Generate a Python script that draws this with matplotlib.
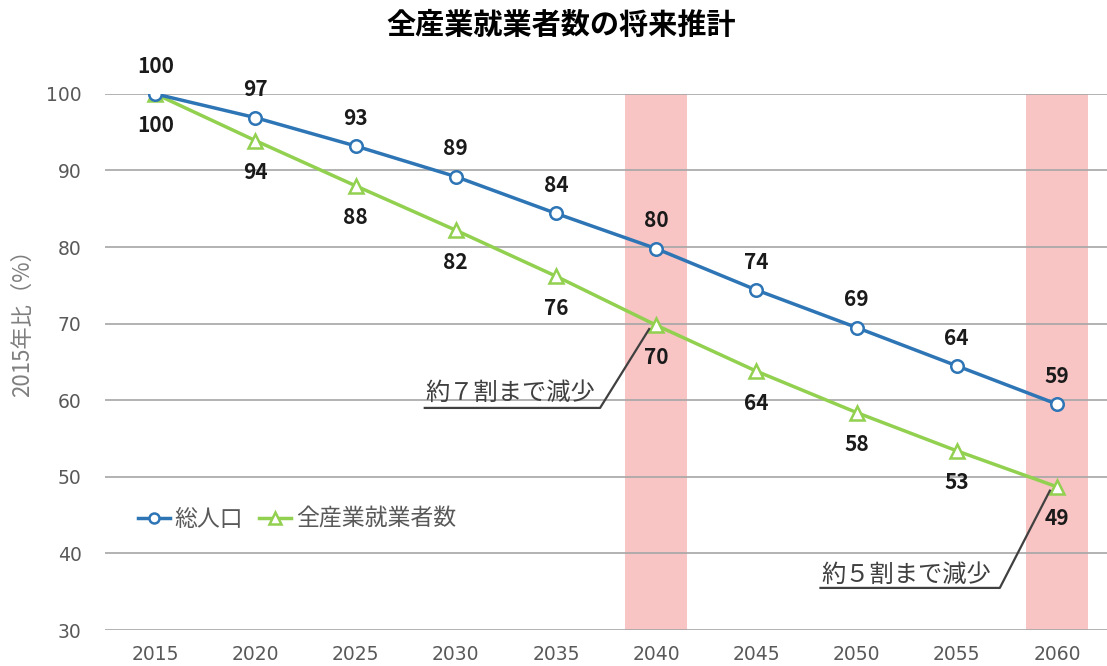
import matplotlib
matplotlib.use("Agg")
import matplotlib.pyplot as plt

plt.rcParams['font.family'] = ['Noto Sans CJK JP', 'DejaVu Sans']

years = ["2015", "2020", "2025", "2030", "2035", "2040", "2045", "2050", "2055", "2060"]
population = [100, 96.9, 93.2, 89.2, 84.4, 79.8, 74.4, 69.5, 64.5, 59.5]
population_labels = [100, 97, 93, 89, 84, 80, 74, 69, 64, 59]
workers = [100, 93.9, 88.0, 82.2, 76.2, 69.8, 63.8, 58.4, 53.4, 48.7]
workers_labels = [100, 94, 88, 82, 76, 70, 64, 58, 53, 49]
yticks = [30, 40, 50, 60, 70, 80, 90, 100]
highlight_years = ["2040", "2060"]

fig = plt.figure(figsize=(11.07, 6.66), dpi=100)
ax = fig.add_axes([0.095, 0.054, 0.905, 0.805])
x = list(range(len(years)))

for hy in highlight_years:
    i = years.index(hy)
    ax.axvspan(i - 0.31, i + 0.31, ymin=0, ymax=1, color='#f8c4c4', zorder=0, lw=0)

for yt in yticks:
    ax.axhline(yt, color='#a6a6a6', lw=1.2, zorder=1)

ax.plot(x, population, color='#2e75b6', lw=2.5, marker='o', ms=9,
        mfc='white', mec='#2e75b6', mew=1.8, zorder=4, label='総人口')
ax.plot(x, workers, color='#92d050', lw=2.5, marker='^', ms=10,
        mfc='white', mec='#92d050', mew=1.8, zorder=3, label='全産業就業者数')

for xi, v, lab in zip(x, population, population_labels):
    ax.annotate(str(lab), (xi, v), xytext=(0, 20), textcoords='offset points',
                ha='center', va='center', fontsize=15, fontweight='bold', color='#1a1a1a')
for xi, v, lab in zip(x, workers, workers_labels):
    ax.annotate(str(lab), (xi, v), xytext=(0, -23), textcoords='offset points',
                ha='center', va='center', fontsize=15, fontweight='bold', color='#1a1a1a')

ax.set_xlim(-0.5, 9.5)
ax.set_ylim(30, 100)
ax.set_xticks(x)
ax.set_xticklabels(years, family='DejaVu Sans')
ax.set_yticks(yticks)
ax.set_yticklabels([str(t) for t in yticks], family='DejaVu Sans')
ax.tick_params(axis='both', length=0, labelsize=13.5, labelcolor='#595959')
ax.tick_params(axis='x', pad=11)
ax.tick_params(axis='y', pad=17)
for s in ax.spines.values():
    s.set_visible(False)

ax.set_ylabel('2015年比（%）', fontsize=16, color='#7f7f7f')
ax.yaxis.set_label_coords(-0.071, 0.582)

fig.text(0.507, 0.962, '全産業就業者数の将来推計', ha='center', va='center',
         fontsize=21, fontweight='bold', color='#000000')

leg = ax.legend(loc='center left', bbox_to_anchor=(0.012, 0.207), frameon=False,
                ncol=2, fontsize=16.5, handlelength=1.4, handletextpad=0.2,
                columnspacing=0.7, labelcolor='#595959', markerscale=0.8)

# annotations with leader lines
i40 = years.index("2040")
ax.text(2.70, 61.0, '約７割まで減少', fontsize=17.5, color='#404040', ha='left', va='center')
ax.plot([2.69, 4.44, i40 - 0.07], [59.0, 59.0, workers[i40] - 0.5], color='#404040', lw=1.6, zorder=5)

i60 = years.index("2060")
ax.text(6.65, 37.2, '約５割まで減少', fontsize=17.5, color='#404040', ha='left', va='center')
ax.plot([6.64, 8.43, i60 - 0.07], [35.5, 35.5, workers[i60] - 0.5], color='#404040', lw=1.6, zorder=5)

fig.savefig('out.png', dpi=100)
